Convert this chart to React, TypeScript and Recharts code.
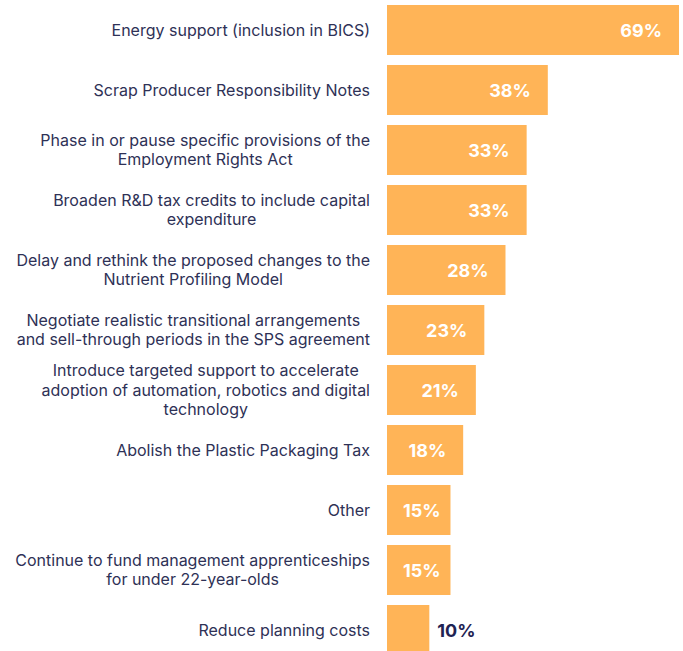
import React from "react";
import { BarChart, Bar, XAxis, YAxis, LabelList } from "recharts";

// Survey options (line breaks mark how each label wraps)
const categories: string[] = [
  "Energy support (inclusion in BICS)",
  "Scrap Producer Responsibility Notes",
  "Phase in or pause specific provisions of the\nEmployment Rights Act",
  "Broaden R&D tax credits to include capital\nexpenditure",
  "Delay and rethink the proposed changes to the\nNutrient Profiling Model",
  "Negotiate realistic transitional arrangements\nand sell-through periods in the SPS agreement",
  "Introduce targeted support to accelerate\nadoption of automation, robotics and digital\ntechnology",
  "Abolish the Plastic Packaging Tax",
  "Other",
  "Continue to fund management apprenticeships\nfor under 22-year-olds",
  "Reduce planning costs",
];

// Share of respondents (%)
const shares: number[] = [69, 38, 33, 33, 28, 23, 21, 18, 15, 15, 10];

const data = categories.map((name, i) => ({ name, value: shares[i] }));

const BAR_COLOR = "#FFB457";
const TEXT_COLOR = "#2E3156";
const DARK_LABEL = "#1F2353";
const FONT = "Inter, 'DejaVu Sans', sans-serif";

let ctx: CanvasRenderingContext2D | null = null;
function measure(text: string, font: string): number {
  if (!ctx && typeof document !== "undefined") {
    ctx = document.createElement("canvas").getContext("2d");
  }
  if (!ctx) return text.length * 8;
  ctx.font = font;
  return ctx.measureText(text).width;
}

const CategoryTick = (props: any) => {
  const { x, y, payload } = props;
  const lines: string[] = String(payload.value).split("\n");
  const font = `16px Inter`;
  const blockW = Math.max(...lines.map((l) => measure(l, font)));
  const right = x - 9;
  const cx = right - blockW / 2;
  const lh = 19.5;
  const startY = y - 0.5 - ((lines.length - 1) * lh) / 2;
  return (
    <text
      x={cx}
      y={startY}
      textAnchor="middle"
      fill={TEXT_COLOR}
      fontFamily={FONT}
      fontSize={16}
      dominantBaseline="central"
    >
      {lines.map((l, i) => (
        <tspan key={i} x={cx} y={startY + i * lh} dominantBaseline="central">
          {l}
        </tspan>
      ))}
    </text>
  );
};

const ValueLabel = (props: any) => {
  const { x, y, width, height, value } = props;
  const text = `${value}%`;
  const font = `700 18px Inter`;
  const w = measure(text, font);
  const cy = y + height / 2;
  const barEnd = x + width;
  if (width < 50) {
    return (
      <text
        x={barEnd + 8}
        y={cy}
        textAnchor="start"
        dominantBaseline="central"
        fill={DARK_LABEL}
        fontFamily={FONT}
        fontSize={18}
        fontWeight={700}
      >
        {text}
      </text>
    );
  }
  const left = Math.max(barEnd - 17 - w, x + 16);
  return (
    <text
      x={left}
      y={cy}
      textAnchor="start"
      dominantBaseline="central"
      fill="#FFFFFF"
      fontFamily={FONT}
      fontSize={18}
      fontWeight={700}
    >
      {text}
    </text>
  );
};

export default function App() {
  return (
    <div style={{ position: "absolute", left: 0, top: 0, background: "#fff" }}>
      <BarChart
        width={683}
        height={660}
        data={data}
        layout="vertical"
        margin={{ top: 0, right: 4, bottom: 0, left: 0 }}
      >
        <XAxis type="number" domain={[0, 69]} hide />
        <YAxis
          type="category"
          dataKey="name"
          width={387}
          axisLine={false}
          tickLine={false}
          interval={0}
          tick={<CategoryTick />}
        />
        <Bar dataKey="value" fill={BAR_COLOR} barSize={50} isAnimationActive={false}>
          <LabelList dataKey="value" content={<ValueLabel />} />
        </Bar>
      </BarChart>
    </div>
  );
}
